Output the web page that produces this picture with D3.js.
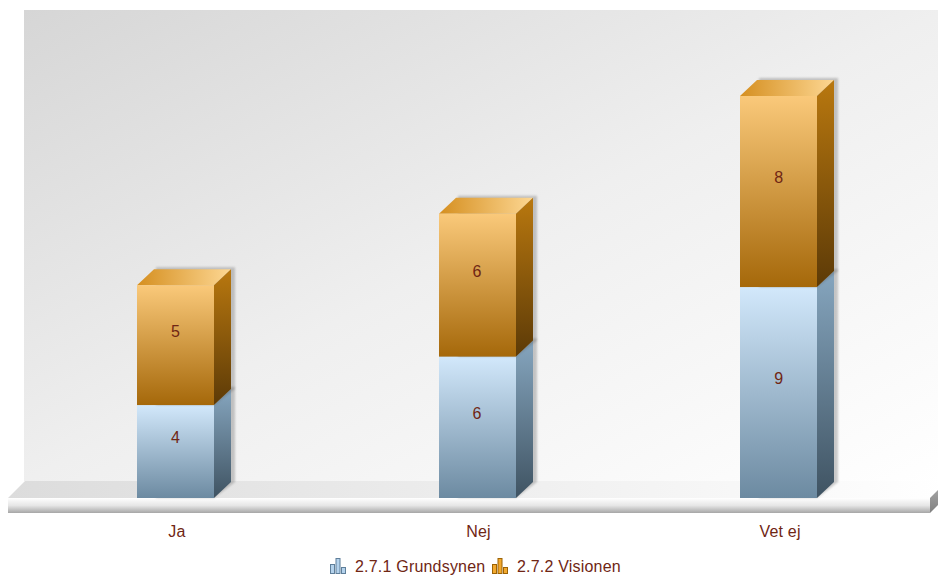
<!DOCTYPE html>
<html>
<head>
<meta charset="utf-8">
<script src="https://cdnjs.cloudflare.com/ajax/libs/d3/7.8.5/d3.min.js"></script>
<style>
  html, body { margin: 0; padding: 0; background: #fff; }
  svg { display: block; font-family: "Liberation Sans", Arial, sans-serif; }
</style>
</head>
<body>
<div id="chart"></div>
<script>
// values, labels on the bars are rounded
const categories = ["Ja", "Nej", "Vet ej"];
const seriesNames = ["2.7.1 Grundsynen", "2.7.2 Visionen"];
const grundsynen = [3.93, 5.98, 8.92];
const visionen = [5.07, 6.04, 8.08];

const dim = { width: 938, height: 579 };
const textColor = "#702614";
const depth = 17;
const depthY = 16;
const barWidth = 77;

const floorY = 498;
const wallLeft = 24, wallTop = 10, wallBottom = 481;
const floorLeft = 8, floorRight = 930;

const svg = d3.select("#chart").append("svg")
    .attr("width", dim.width)
    .attr("height", dim.height);
const defs = svg.append("defs");

function gradient(id, x2, y2, stops) {
    const g = defs.append("linearGradient").attr("id", id)
        .attr("x1", 0).attr("y1", 0).attr("x2", x2).attr("y2", y2);
    stops.forEach((c, i) => {
        g.append("stop").attr("offset", i / (stops.length - 1)).attr("stop-color", c);
    });
}

gradient("wall", 1, 1, ["#d6d6d6", "#efefef", "#ffffff"]);
gradient("floorTop", 1, 0, ["#dcdcdc", "#ffffff"]);
gradient("floorFront", 0, 1, ["#ffffff", "#e6e6e6", "#a6a6a6"]);
gradient("floorSide", 0, 1, ["#b0b0b0", "#808080"]);

const colors = [
    { front: ["#d2e8fb", "#6c8aa1"], side: ["#86a6bf", "#3f5362"], top: ["#86a6bf", "#d2e8fb"] },
    { front: ["#fac97a", "#a5680a"], side: ["#b9780f", "#5c3a07"], top: ["#d58f20", "#fdd793"] }
];
colors.forEach((c, i) => {
    gradient("front" + i, 0, 1, c.front);
    gradient("side" + i, 0, 1, c.side);
    gradient("top" + i, 1, 0, c.top);
});

defs.append("filter").attr("id", "soft")
    .attr("x", "-30%").attr("y", "-30%").attr("width", "160%").attr("height", "160%")
    .append("feGaussianBlur").attr("stdDeviation", 1.2);

// scales
const x = d3.scalePoint().domain(categories).range([175.5, 778.6]);
const y = d3.scaleLinear().domain([0, 17]).range([floorY, 96]);
const barLeft = c => Math.round(x(c) - barWidth / 2);

// wall and floor
svg.append("rect")
    .attr("x", wallLeft).attr("y", wallTop)
    .attr("width", floorRight + depth - wallLeft).attr("height", wallBottom - wallTop)
    .attr("fill", "url(#wall)");

const poly = pts => pts.map(p => p.join(",")).join(" ");

svg.append("polygon")
    .attr("points", poly([[floorLeft, floorY], [floorLeft + depth, floorY - depth],
        [floorRight + depth, floorY - depth], [floorRight, floorY]]))
    .attr("fill", "url(#floorTop)");
svg.append("rect")
    .attr("x", floorLeft).attr("y", floorY)
    .attr("width", floorRight - floorLeft).attr("height", 15)
    .attr("fill", "url(#floorFront)");
svg.append("polygon")
    .attr("points", poly([[floorRight, floorY], [floorRight + depth, floorY - depth],
        [floorRight + depth, floorY - depth + 15], [floorRight, floorY + 15]]))
    .attr("fill", "url(#floorSide)");

// stacked bars
const rows = categories.map((c, i) => ({ cat: c, g: grundsynen[i], v: visionen[i] }));
const stacked = d3.stack().keys(["g", "v"])(rows);
const fmt = d3.format(".0f");

const series = svg.selectAll(".series").data(stacked).join("g").attr("class", "series");

const segs = series.selectAll(".seg")
    .data((s, si) => s.map(d => ({ si: si, cat: d.data.cat, y0: y(d[0]), y1: y(d[1]), value: d[1] - d[0] })))
    .join("g").attr("class", "seg");

// shadow behind each segment
segs.append("polygon")
    .attr("points", d => {
        const l = barLeft(d.cat), r = l + barWidth;
        return poly([[l + depth + 2, d.y1 - depthY - 2], [r + depth + 4, d.y1 - depthY - 2],
            [r + depth + 4, d.y0 - depthY], [r, d.y0], [l + depth + 2, d.y0]]);
    })
    .attr("fill", "#555").attr("opacity", 0.3).attr("filter", "url(#soft)");

segs.append("polygon")
    .attr("points", d => {
        const l = barLeft(d.cat), r = l + barWidth;
        return poly([[l, d.y1], [l + depth, d.y1 - depthY], [r + depth, d.y1 - depthY], [r, d.y1]]);
    })
    .attr("fill", d => `url(#top${d.si})`);

segs.append("polygon")
    .attr("points", d => {
        const r = barLeft(d.cat) + barWidth;
        return poly([[r, d.y1], [r + depth, d.y1 - depthY], [r + depth, d.y0 - depthY], [r, d.y0]]);
    })
    .attr("fill", d => `url(#side${d.si})`);

segs.append("rect")
    .attr("x", d => barLeft(d.cat))
    .attr("y", d => d.y1)
    .attr("width", barWidth)
    .attr("height", d => d.y0 - d.y1)
    .attr("fill", d => `url(#front${d.si})`);

segs.append("text")
    .attr("x", d => x(d.cat))
    .attr("y", d => (d.y0 + d.y1) / 2 - 14)
    .attr("dy", "0.35em")
    .attr("text-anchor", "middle")
    .attr("font-size", 16)
    .attr("fill", textColor)
    .text(d => fmt(d.value));

// category labels
const axisX = svg.append("g")
    .attr("transform", "translate(1, 526)")
    .call(d3.axisBottom(x).tickSize(0).tickPadding(0));
axisX.select(".domain").remove();
axisX.selectAll("text")
    .attr("font-family", "'Liberation Sans', Arial, sans-serif")
    .attr("font-size", 16)
    .attr("letter-spacing", 0.2)
    .attr("fill", textColor);

// legend
const legendX = [330, 492];
const iconBars = [[0, 4, 9], [5.5, 4, 15], [11, 4, 6]];
const legend = svg.selectAll(".legend").data(seriesNames).join("g")
    .attr("class", "legend")
    .attr("transform", (d, i) => `translate(${legendX[i]}, 559)`);

legend.selectAll("rect")
    .data((d, i) => iconBars.map(b => ({ b: b, i: i })))
    .join("rect")
    .attr("x", d => d.b[0] + 0.5)
    .attr("y", d => 14.5 - d.b[2])
    .attr("width", d => d.b[1])
    .attr("height", d => d.b[2])
    .attr("fill", d => d.i === 0 ? "#b4d2ec" : "#f2a92e")
    .attr("stroke", d => d.i === 0 ? "#5f7f9a" : "#9c6306");

legend.append("text")
    .attr("x", 25)
    .attr("y", 13)
    .attr("font-size", 16)
    .attr("letter-spacing", 0.2)
    .attr("fill", textColor)
    .text(d => d);
</script>
</body>
</html>
